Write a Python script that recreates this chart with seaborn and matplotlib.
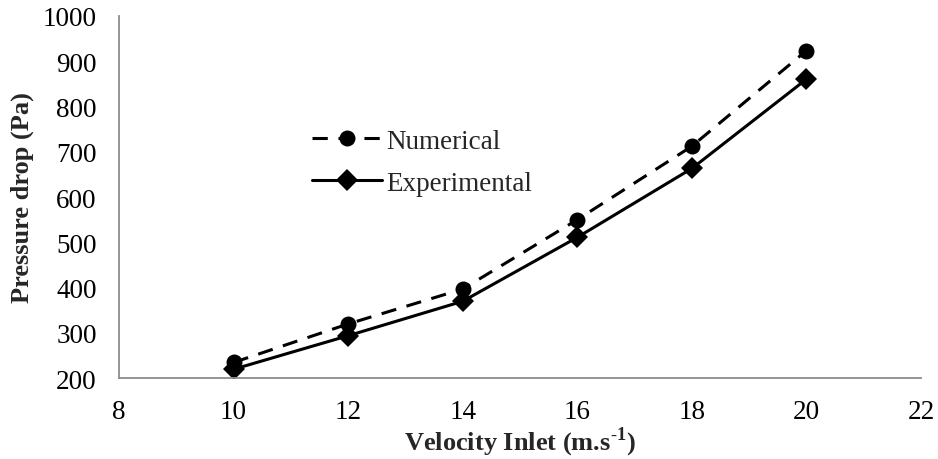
import matplotlib
matplotlib.use("Agg")
import matplotlib.pyplot as plt
import seaborn as sns
import pandas as pd

velocity = [10, 12, 14, 16, 18, 20]
numerical = [235, 320, 397, 550, 712, 923]
experimental = [220, 294, 370, 511, 663, 860]
series_names = ["Numerical", "Experimental"]
x_ticks = [8, 10, 12, 14, 16, 18, 20, 22]
y_ticks = [200, 300, 400, 500, 600, 700, 800, 900, 1000]

df = pd.DataFrame({
    "Velocity": velocity * 2,
    "Pressure": numerical + experimental,
    "Series": [series_names[0]] * len(velocity) + [series_names[1]] * len(velocity),
})

sns.set_theme(style="white")
plt.rcParams["font.family"] = ["Liberation Serif", "DejaVu Serif"]
plt.rcParams["mathtext.fontset"] = "custom"
plt.rcParams["mathtext.rm"] = "Liberation Serif"
plt.rcParams["mathtext.bf"] = "Liberation Serif:bold"

fig = plt.figure(figsize=(9.38, 4.6), dpi=100)
ax = fig.add_axes([0.1269, 0.1754, 0.855, 0.7883])

sns.lineplot(
    data=df, x="Velocity", y="Pressure", hue="Series", style="Series",
    palette={"Numerical": "black", "Experimental": "black"},
    markers={"Numerical": "o", "Experimental": "D"},
    dashes={"Numerical": (5, 3.5), "Experimental": ""},
    linewidth=2.2, markersize=11.5, markeredgewidth=0, ax=ax,
)

ax.set_xlim(8, 22)
ax.set_ylim(200, 1000)
ax.set_xticks(x_ticks)
ax.set_yticks(y_ticks)
ax.tick_params(axis="both", labelsize=19.5, colors="black", length=6, width=1.3,
               direction="out", color="#8c8c8c")
ax.tick_params(axis="x", pad=9)
ax.tick_params(axis="y", pad=10)
for s in ["top", "right"]:
    ax.spines[s].set_visible(False)
for s in ["left", "bottom"]:
    ax.spines[s].set_color("#8c8c8c")
    ax.spines[s].set_linewidth(1.3)

ax.set_xlabel(r"Velocity Inlet (m.s$^{\mathbf{\text{-}1}}$)", fontsize=19, fontweight="bold", labelpad=0)
ax.set_ylabel("Pressure drop (Pa)", fontsize=19, fontweight="bold", labelpad=6)

leg = ax.legend(loc="upper left", bbox_to_anchor=(0.21, 0.755), frameon=False,
                fontsize=19.5, handlelength=2.6, handletextpad=0.15, labelspacing=0.62)
for h in leg.get_lines():
    h.set_linewidth(2.2)

fig.savefig("out.png", dpi=100)
